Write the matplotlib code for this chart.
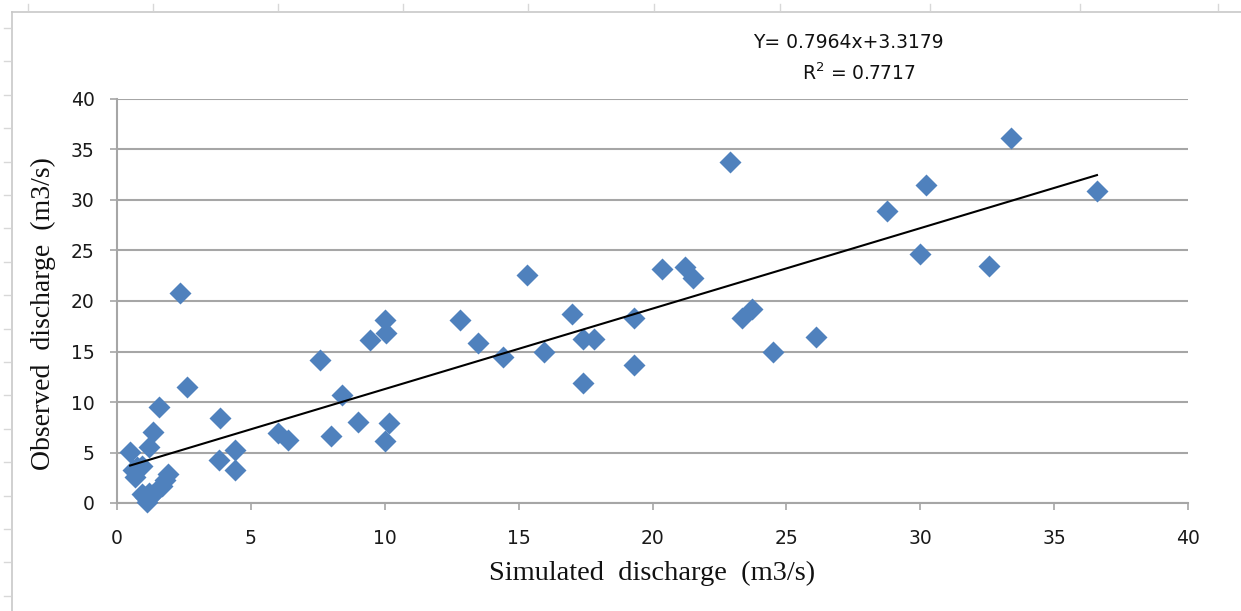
import matplotlib
matplotlib.use("Agg")
import matplotlib.pyplot as plt
from matplotlib.lines import Line2D
import numpy as np

# Data
simulated = [0.49, 0.6, 0.75, 0.67, 0.93, 1.2, 1.35, 1.57, 2.6, 2.35,
             0.93, 1.05, 1.12, 1.3, 1.5, 1.68, 1.8, 1.9, 1.2,
             3.85, 3.8, 4.4, 4.4, 6.0, 6.4, 7.6, 8.0, 8.4, 9.0, 9.45,
             10.0, 10.05, 10.0, 10.15, 12.8, 13.5, 14.4, 15.3, 15.95, 17.0,
             17.4, 17.8, 17.4, 19.3, 19.3, 20.35, 21.2, 21.5, 22.9, 23.35,
             23.7, 24.5, 26.1, 28.75, 30.0, 30.2, 32.55, 33.4, 36.6]
observed = [5.05, 3.3, 3.6, 2.6, 3.7, 5.5, 7.0, 9.5, 11.5, 20.8,
            0.9, 0.6, 0.1, 0.8, 1.3, 1.7, 2.3, 2.9, 1.0,
            8.4, 4.3, 5.2, 3.3, 6.9, 6.2, 14.2, 6.6, 10.7, 8.0, 16.1,
            18.1, 16.8, 6.1, 7.9, 18.1, 15.8, 14.5, 22.6, 14.95, 18.7,
            16.2, 16.2, 11.9, 18.3, 13.7, 23.2, 23.4, 22.3, 33.8, 18.3,
            19.2, 15.0, 16.4, 28.9, 24.65, 31.5, 23.5, 36.1, 30.9]
slope = 0.7964
intercept = 3.3179
r_squared = 0.7717
x_ticks = [0, 5, 10, 15, 20, 25, 30, 35, 40]
y_ticks = [0, 5, 10, 15, 20, 25, 30, 35, 40]

W, H = 1241, 611
fig = plt.figure(figsize=(W / 100, H / 100), dpi=100)
ax = fig.add_axes([117 / W, 1 - 503 / H, (1188 - 117) / W, (503 - 99) / H])

grid_c = "#A6A6A6"
ax.set_xlim(0, 40)
ax.set_ylim(0, 40)
ax.set_yticks(y_ticks)
ax.set_xticks(x_ticks)
ax.yaxis.grid(True, color=grid_c, lw=1.5)
ax.set_axisbelow(True)
for s in ["top", "right"]:
    ax.spines[s].set_visible(False)
for s in ["left", "bottom"]:
    ax.spines[s].set_color(grid_c)
    ax.spines[s].set_linewidth(1.5)
ax.tick_params(axis="both", direction="out", length=5, width=1.2, color=grid_c,
               labelsize=13.5, labelcolor="#1a1a1a")
ax.tick_params(axis="x", pad=14)
ax.tick_params(axis="y", pad=11)

ax.plot(simulated, observed, linestyle="none", marker="D", ms=11.5,
        color="#4F81BD", mec="none", clip_on=False, zorder=3)

xs = np.array([min(simulated), max(simulated)])
ax.plot(xs, slope * xs + intercept, color="black", lw=1.5, zorder=4)

ax.set_xlabel("Simulated  discharge  (m3/s)", family="Liberation Serif",
              fontsize=20.5, labelpad=9, color="#111111")
ax.set_ylabel("Observed  discharge  (m3/s)", family="Liberation Serif",
              fontsize=20, color="#111111")
ax.yaxis.set_label_coords(-0.057, 0.47)

fig.text(848 / W, 1 - 42 / H, f"Y= {slope}x+{intercept}", ha="center", va="center",
         fontsize=13.5, family=["Liberation Sans Narrow", "DejaVu Sans"], color="#111111")
fig.text(859 / W, 1 - 73 / H, f"R$^2$ = {r_squared}", ha="center", va="center",
         fontsize=13.5, family=["Liberation Sans Narrow", "DejaVu Sans"], color="#111111")

# outer chart-area frame
frame_c = "#C8C8C8"
fig.add_artist(Line2D([12 / W, 1], [1 - 12 / H, 1 - 12 / H], color=frame_c, lw=1.2))
fig.add_artist(Line2D([12 / W, 12 / W], [0, 1 - 12 / H], color=frame_c, lw=1.2))
for yp in np.arange(28, 611, 33.4):
    fig.add_artist(Line2D([4 / W, 10 / W], [1 - yp / H, 1 - yp / H], color="#D8D8D8", lw=1))
for xp in [28, 153, 278, 403, 528, 654, 780, 930, 1080, 1218]:
    fig.add_artist(Line2D([xp / W, xp / W], [1 - 4 / H, 1 - 10 / H], color="#D8D8D8", lw=1))

fig.savefig("out.png", dpi=100, facecolor="white")
